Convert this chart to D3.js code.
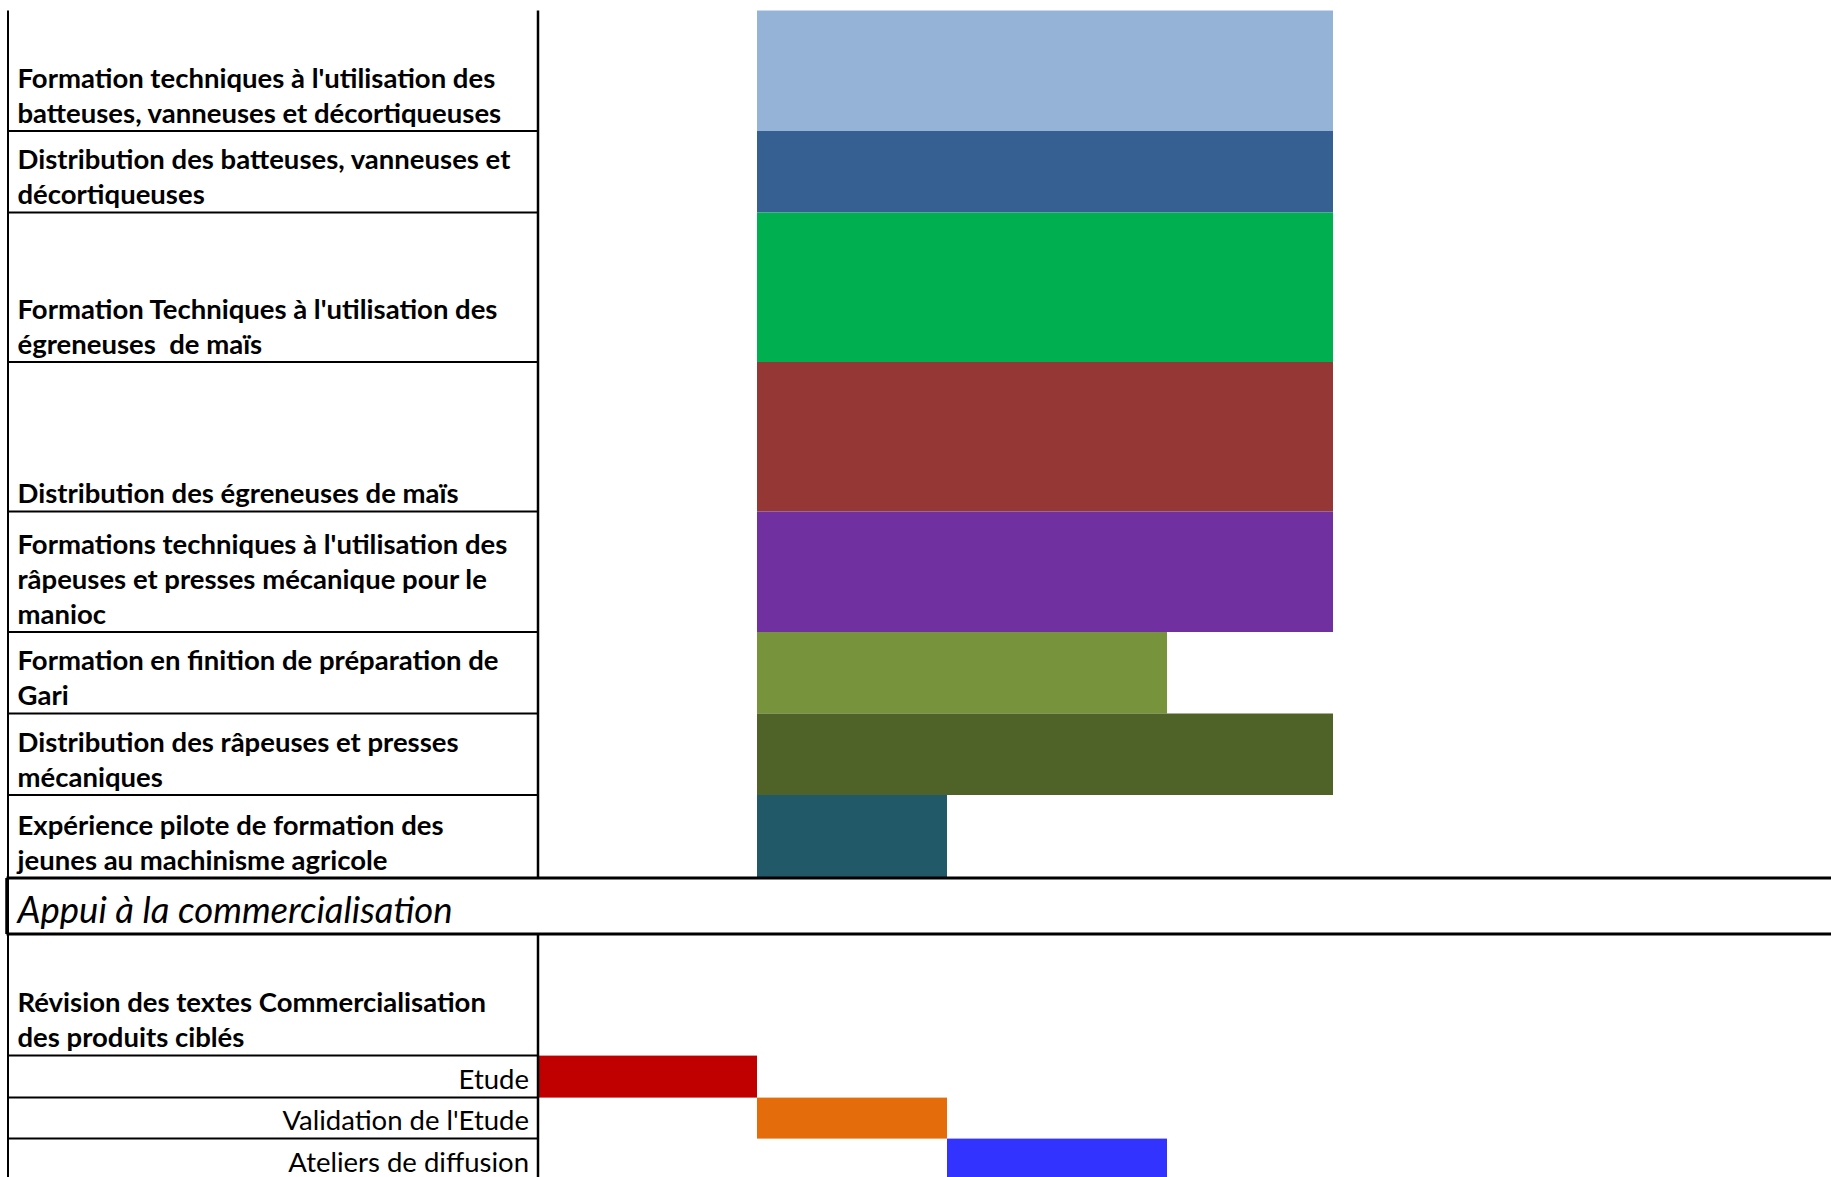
<!DOCTYPE html>
<html><head><meta charset="utf-8">
<script src="https://cdn.jsdelivr.net/npm/d3@7"></script>
<style>
body{margin:0;background:#fff}
svg{display:block}
text{white-space:pre}
</style>
</head><body>
<svg id="chart" width="1831" height="1177"></svg>
<script>
// ---------- DATA ----------
const periods = [0, 1, 2, 3, 4];

const tasksA = [
  ["Formation techniques à l'utilisation des", "batteuses, vanneuses et décortiqueuses"],
  ["Distribution des batteuses, vanneuses et", "décortiqueuses"],
  ["Formation Techniques à l'utilisation des", "égreneuses  de maïs"],
  ["Distribution des égreneuses de maïs"],
  ["Formations techniques à l'utilisation des", "râpeuses et presses mécanique pour le", "manioc"],
  ["Formation en finition de préparation de", "Gari"],
  ["Distribution des râpeuses et presses", "mécaniques"],
  ["Expérience pilote de formation des", "jeunes au machinisme agricole"]
];
const startA = [1, 1, 1, 1, 1, 1, 1, 1];
const endA   = [4, 4, 4, 4, 4, 3, 4, 2];

const sectionTitle = "Appui à la commercialisation";

const tasksB = [
  ["Révision des textes Commercialisation", "des produits ciblés"],
  ["Etude"],
  ["Validation de l'Etude"],
  ["Ateliers de diffusion"]
];
const startB = [null, 0, 1, 2];
const endB   = [null, 1, 2, 3];

// ---------- STYLE / LAYOUT ----------
const colorsA = ["#95B3D7", "#376092", "#00B050", "#953735", "#7030A0", "#77933C", "#4F6228", "#215968"];
const colorsB = [null, "#C00000", "#E46C0A", "#3333FF"];
const boldB = [true, false, false, false];
const alignB = ["start", "end", "end", "end"];

const W = 1831;
const leftX = 8, axisX = 538, textX = 17.5, rightTextX = 529;
const colEdges = [538, 757, 947, 1167, 1333];
const topA = 10.5;
const rowHA = [120.5, 81.5, 149.5, 149.5, 120.5, 81.5, 81.5, 83];
const headerH = 56;
const rowHB = [121.6, 42, 41, 42];
const lineGap = 35, baseOff = 8.5;
const fontFam = "Lato, 'Open Sans', sans-serif";
const labelSize = 27.5, titleSize = 36.5;

const svg = d3.select("#chart");
const x = d3.scaleLinear().domain(periods).range(colEdges);

function layout(heights, top) {
  const tops = [];
  let y = top;
  heights.forEach(h => { tops.push(y); y += h; });
  return { tops, bottom: y };
}
const LA = layout(rowHA, topA);
const headerTop = LA.bottom, headerBottom = headerTop + headerH;
const LB = layout(rowHB, headerBottom);

const idxA = d3.range(tasksA.length), idxB = d3.range(tasksB.length);
const yA = d3.scaleOrdinal().domain(idxA).range(LA.tops);
const yB = d3.scaleOrdinal().domain(idxB).range(LB.tops);

// ---------- BARS ----------
svg.append("g").selectAll("rect").data(idxA).join("rect")
  .attr("x", i => x(startA[i]))
  .attr("y", i => yA(i))
  .attr("width", i => x(endA[i]) - x(startA[i]))
  .attr("height", i => rowHA[i])
  .attr("fill", i => colorsA[i]);

svg.append("g").selectAll("rect").data(idxB.filter(i => startB[i] !== null)).join("rect")
  .attr("x", i => x(startB[i]))
  .attr("y", i => yB(i))
  .attr("width", i => x(endB[i]) - x(startB[i]))
  .attr("height", i => rowHB[i])
  .attr("fill", i => colorsB[i]);

// ---------- GRID LINES ----------
const g = svg.append("g").attr("stroke", "#000");
g.selectAll("line.ra").data(idxA.slice(0, -1)).join("line")
  .attr("x1", leftX).attr("x2", axisX)
  .attr("y1", i => yA(i) + rowHA[i]).attr("y2", i => yA(i) + rowHA[i])
  .attr("stroke-width", 2);
g.selectAll("line.rb").data(idxB.slice(0, -1)).join("line")
  .attr("x1", leftX).attr("x2", axisX)
  .attr("y1", i => yB(i) + rowHB[i]).attr("y2", i => yB(i) + rowHB[i])
  .attr("stroke-width", 2);
g.append("line").attr("x1", leftX).attr("x2", leftX).attr("y1", topA).attr("y2", 1177).attr("stroke-width", 2);
g.append("line").attr("x1", axisX).attr("x2", axisX).attr("y1", topA).attr("y2", headerTop).attr("stroke-width", 2.5);
g.append("line").attr("x1", axisX).attr("x2", axisX).attr("y1", headerBottom).attr("y2", 1177).attr("stroke-width", 2.5);
g.append("line").attr("x1", leftX - 1.5).attr("x2", W).attr("y1", headerTop).attr("y2", headerTop).attr("stroke-width", 3);
g.append("line").attr("x1", leftX - 1.5).attr("x2", W).attr("y1", headerBottom).attr("y2", headerBottom).attr("stroke-width", 3);
g.append("line").attr("x1", leftX - 1.5).attr("x2", leftX - 1.5).attr("y1", headerTop).attr("y2", headerBottom).attr("stroke-width", 2.5);

// ---------- LABELS ----------
function labels(tasks, yS, heights, bold, align) {
  const grp = svg.append("g").attr("font-family", fontFam).attr("font-size", labelSize).attr("fill", "#000");
  tasks.forEach((lines, i) => {
    const bottom = yS(i) + heights[i];
    const b = bold(i), a = align(i);
    lines.forEach((ln, j) => {
      grp.append("text")
        .attr("x", a === "end" ? rightTextX : textX)
        .attr("y", bottom - baseOff - (lines.length - 1 - j) * lineGap)
        .attr("text-anchor", a)
        .attr("font-weight", b ? 700 : 400)
        .text(ln);
    });
  });
}
labels(tasksA, yA, rowHA, () => true, () => "start");
labels(tasksB, yB, rowHB, i => boldB[i], i => alignB[i]);

svg.append("text")
  .attr("x", textX).attr("y", headerBottom - 11)
  .attr("font-family", fontFam).attr("font-style", "italic").attr("font-size", titleSize)
  .text(sectionTitle);
</script>
</body></html>
